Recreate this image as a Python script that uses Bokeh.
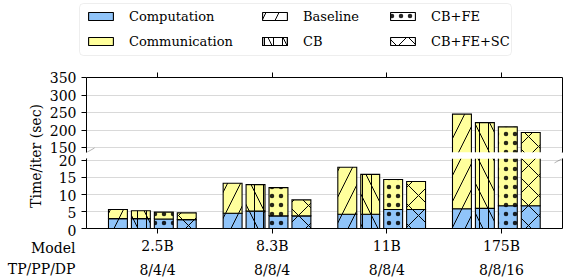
import numpy as np
from bokeh.plotting import figure
from bokeh.models import (Range1d, FixedTicker, LinearAxis, Legend, LegendItem, Label,
                          BoxAnnotation, PolyAnnotation)
from bokeh.layouts import column, row
from bokeh.core.properties import value
from bokeh.embed import file_html
from bokeh.resources import INLINE

# ---------------- data ----------------
models = ["2.5B", "8.3B", "11B", "175B"]
parallelism = ["8/4/4", "8/8/4", "8/8/4", "8/8/16"]
methods = ["Baseline", "CB", "CB+FE", "CB+FE+SC"]
computation = {
    "Baseline": [2.9, 4.5, 4.2, 5.8],
    "CB":       [2.9, 5.1, 4.2, 5.9],
    "CB+FE":    [2.8, 3.7, 5.6, 6.7],
    "CB+FE+SC": [2.6, 3.7, 5.6, 6.7],
}
communication = {
    "Baseline": [2.7, 8.8, 13.8, 240.2],
    "CB":       [2.3, 7.8, 11.7, 216.1],
    "CB+FE":    [2.0, 8.3, 8.8, 203.3],
    "CB+FE+SC": [2.0, 4.7, 8.2, 187.3],
}
upper_ticks = [150, 200, 250, 300, 350]
lower_ticks = [0, 5, 10, 15, 20]
upper_limits = (137.2, 350)
lower_limits = (0, 20.57)

# ---------------- styles / layout ----------------
FONT = "DejaVu Serif"
AX_FS = "14px"
LEG_FS = "13px"
BLUE = "#90c4f9"
YELLOW = "#ffff9c"
GRID = "#d9d9d9"
OFFSETS = [-0.345, -0.145, 0.055, 0.255]
BAR_W = 0.165
FRAME_W = 476
PPU_X = 114.67
XS = (86 - 157) / PPU_X
XE = XS + FRAME_W / PPU_X
UP_H = 75
LOW_H = 72
ppu_up = UP_H / (upper_limits[1] - upper_limits[0])
ppu_low = LOW_H / (lower_limits[1] - lower_limits[0])

# (pattern, scale, alpha)
HATCH = {
    "Baseline": [("/", 26, 1.0)],
    "CB": [("|", 9, 1.0), ("\\", 30, 1.0)],
    "CB+FE": [(".", 9, 0.85)],
    "CB+FE+SC": [("x", 20, 1.0)],
}


def style_panel(p):
    p.outline_line_color = None
    p.xgrid.visible = False
    p.ygrid.grid_line_color = GRID
    p.ygrid.grid_line_width = 1
    for ax in p.xaxis + p.yaxis:
        ax.axis_line_color = "black"
        ax.major_tick_line_color = "black"
        ax.minor_tick_line_color = None
        ax.major_tick_in = 0
        ax.major_tick_out = 5
        ax.major_label_text_font = FONT
        ax.major_label_text_font_size = AX_FS
        ax.major_label_text_color = None
    p.xaxis.ticker = FixedTicker(ticks=list(range(len(models))))
    right = LinearAxis(major_tick_line_color=None, minor_tick_line_color=None,
                       major_tick_out=0, major_tick_in=0, major_label_text_color=None,
                       axis_line_color="black")
    p.add_layout(right, "right")


def draw_bars(p, lo, hi):
    n = len(models)
    w = BAR_W
    for j, m in enumerate(methods):
        comp = np.array(computation[m], dtype=float)
        comm = np.array(communication[m], dtype=float)
        x = np.arange(n) + OFFSETS[j]
        for bottom, top, color in [(np.zeros(n), comp, BLUE), (comp, comp + comm, YELLOW)]:
            b = np.clip(bottom, lo, hi)
            t = np.clip(top, lo, hi)
            keep = t > b
            if not keep.any():
                continue
            xs, bb, tt = x[keep], b[keep], t[keep]
            for k, (pat, sc, ha) in enumerate(HATCH[m]):
                p.vbar(x=xs, bottom=bb, top=tt, width=w, fill_color=color,
                       fill_alpha=1 if k == 0 else 0, line_color=None,
                       hatch_pattern=pat, hatch_scale=sc, hatch_weight=1,
                       hatch_color="black", hatch_alpha=ha)
            lx, ly = [], []
            for xi, bi, ti, b0, t0 in zip(xs, bb, tt, bottom[keep], top[keep]):
                x0, x1 = xi - w / 2, xi + w / 2
                top_vis = lo <= t0 <= hi
                bot_vis = lo <= b0 <= hi
                if top_vis and bot_vis:
                    lx.append([x0, x0, x1, x1, x0]); ly.append([bi, ti, ti, bi, bi])
                elif top_vis:
                    lx.append([x0, x0, x1, x1]); ly.append([bi, ti, ti, bi])
                elif bot_vis:
                    lx.append([x0, x0, x1, x1]); ly.append([ti, bi, bi, ti])
                else:
                    lx += [[x0, x0], [x1, x1]]; ly += [[bi, ti], [bi, ti]]
            p.multi_line(xs=lx, ys=ly, line_color="black", line_width=1.1,
                         line_join="miter")


def break_marks(p, centers_y, ppu_y):
    dx = 8 / PPU_X
    dy = 4.5 / ppu_y
    for cx in (XS, XE):
        for cy in centers_y:
            p.add_layout(PolyAnnotation(xs=[cx - dx, cx + dx], ys=[cy - dy, cy + dy],
                                        line_color="black", line_width=1, fill_alpha=0))


# ---------------- upper panel (page y 66-155) ----------------
up = figure(width=496, height=89, x_range=Range1d(XS, XE), y_range=Range1d(*upper_limits),
            x_axis_location="above", title=None, output_backend="svg", toolbar_location=None,
            min_border_left=8, min_border_right=12, min_border_top=11, min_border_bottom=3)
style_panel(up)
up.yaxis.ticker = FixedTicker(ticks=upper_ticks)
draw_bars(up, *upper_limits)
break_marks(up, [upper_limits[0], upper_limits[0] - 6 / ppu_up], ppu_up)

# ---------------- lower panel (page y 155-280) ----------------
low = figure(width=496, height=125, x_range=up.x_range, y_range=Range1d(*lower_limits),
             title=None, output_backend="svg", toolbar_location=None,
             min_border_left=8, min_border_right=12, min_border_top=3, min_border_bottom=50)
style_panel(low)
low.yaxis.ticker = FixedTicker(ticks=lower_ticks)
xa = low.xaxis[0]
xa.major_label_text_color = "black"
xa.major_label_standoff = 4
xa.major_label_overrides = {i: s for i, s in enumerate(models)}
xa2 = LinearAxis(ticker=FixedTicker(ticks=list(range(len(models)))),
                 major_label_overrides={i: s for i, s in enumerate(parallelism)},
                 axis_line_color=None, major_tick_line_color=None, minor_tick_line_color=None,
                 major_tick_out=0, major_tick_in=0, major_label_standoff=5,
                 major_label_text_font=FONT, major_label_text_font_size=AX_FS,
                 major_label_text_color="black")
low.add_layout(xa2, "below")
draw_bars(low, *lower_limits)
break_marks(low, [lower_limits[1], lower_limits[1] + 6 / ppu_low], ppu_low)

# ---------------- left strip: y tick labels, y label, row labels (page y 66-280) ----------------
STRIP_W, STRIP_H = 78, 214
PAGE_TOP, PAGE_BOT = 66, 280
up_rng = Range1d(upper_limits[0] - (PAGE_BOT - 152) / ppu_up,
                 upper_limits[1] + (77 - PAGE_TOP) / ppu_up)
low_rng = Range1d(lower_limits[0] - (PAGE_BOT - 230) / ppu_low,
                  lower_limits[1] + (158 - PAGE_TOP) / ppu_low)
strip = figure(width=STRIP_W, height=STRIP_H, x_range=Range1d(0, STRIP_W), y_range=up_rng,
               x_axis_location=None, y_axis_location=None, title=None, output_backend="svg",
               toolbar_location=None, min_border=0)
strip.extra_y_ranges = {"lower": low_rng}
strip.outline_line_color = None
strip.grid.visible = False
strip.text(x=76, y=upper_ticks, text=[str(t) for t in upper_ticks], text_align="right",
           text_baseline="middle", text_font=value(FONT), text_font_size=AX_FS,
           text_color="black")
strip.text(x=76, y=lower_ticks, text=[str(t) for t in lower_ticks], text_align="right",
           text_baseline="middle", text_font=value(FONT), text_font_size=AX_FS,
           text_color="black", y_range_name="lower")
strip.add_layout(Label(x=35, y=PAGE_BOT - 155.5, x_units="screen", y_units="screen",
                       text="Time/iter (sec)", angle=np.pi / 2, text_align="center",
                       text_baseline="middle", text_font=FONT, text_font_size=AX_FS,
                       text_color="black"))
strip.add_layout(Label(x=75, y=PAGE_BOT - 247, x_units="screen", y_units="screen",
                       text="Model", text_align="right", text_baseline="middle",
                       text_font=FONT, text_font_size=AX_FS, text_color="black"))
strip.add_layout(Label(x=75, y=PAGE_BOT - 268, x_units="screen", y_units="screen",
                       text="TP/PP/DP", text_align="right", text_baseline="middle",
                       text_font=FONT, text_font_size=AX_FS, text_color="black"))

# ---------------- legend (page y 0-66) ----------------
leg = figure(width=574, height=66, x_range=Range1d(0, 574), y_range=Range1d(0, 66),
             x_axis_location=None, y_axis_location=None, title=None, output_backend="svg",
             toolbar_location=None, min_border=0)
leg.outline_line_color = None
leg.grid.visible = False
leg.add_layout(BoxAnnotation(left=79, right=511, bottom=11, top=63, fill_color="white",
                             fill_alpha=1, line_color="#c8c8c8", line_width=1, border_radius=4))


def dummy(fill, pat=None, sc=10, ha=1.0, alpha=1.0):
    kw = dict(x=[-100], top=[0], width=1, fill_color=fill, fill_alpha=alpha,
              line_color="black", line_width=1.1)
    if pat:
        kw.update(hatch_pattern=pat, hatch_scale=sc, hatch_weight=1, hatch_color="black",
                  hatch_alpha=ha)
    return leg.vbar(**kw)


entries = [("Computation", [dummy(BLUE)]), ("Communication", [dummy(YELLOW)])]
for m in methods:
    rs = [dummy("white", pat, sc, ha, 1.0 if k == 0 else 0.0)
          for k, (pat, sc, ha) in enumerate(HATCH[m])]
    entries.append((m, rs))

col_x = [85, 259, 387]
for c in range(3):
    items = [LegendItem(label=lab, renderers=rs) for lab, rs in entries[2 * c:2 * c + 2]]
    lg = Legend(items=items, location=(col_x[c], 16.5), orientation="vertical",
                border_line_color=None, background_fill_alpha=0, padding=0, margin=0,
                spacing=8, glyph_width=31, glyph_height=10, label_standoff=13,
                label_height=17, label_text_font=FONT, label_text_font_size=LEG_FS,
                label_text_color="black")
    leg.add_layout(lg)

layout = column(leg, row(strip, column(up, low)))
open("out.html", "w").write(file_html(layout, INLINE))
